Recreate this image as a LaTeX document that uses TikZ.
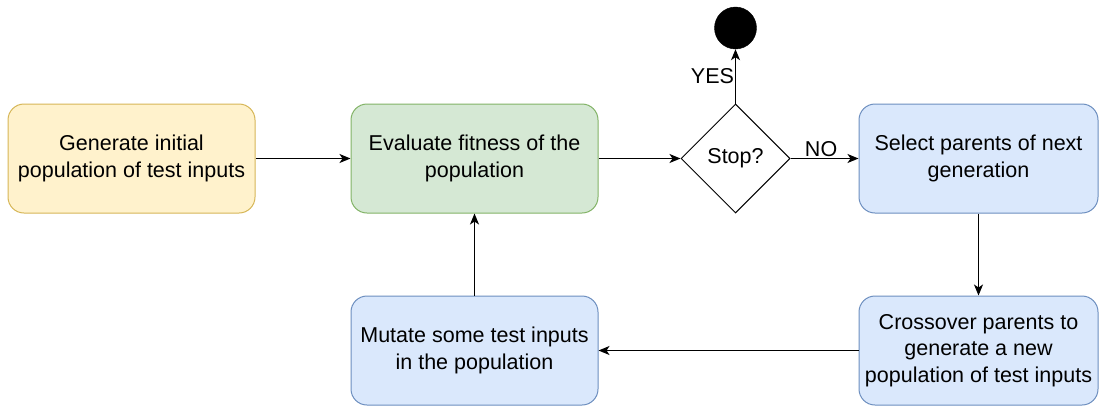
\documentclass[tikz,border=0pt]{standalone}
\usepackage{fontspec}
\setmainfont{Liberation Sans}
\usetikzlibrary{arrows.meta, positioning, shapes.geometric}

\definecolor{yelfill}{HTML}{FFF2CC}
\definecolor{yelline}{HTML}{D6B656}
\definecolor{grnfill}{HTML}{D5E8D4}
\definecolor{grnline}{HTML}{82B366}
\definecolor{blufill}{HTML}{DAE8FC}
\definecolor{bluline}{HTML}{6C8EBF}

\tikzset{
    stepbox/.style={rounded corners=16pt, align=center, line width=1pt,
        minimum width=247pt, minimum height=109pt, inner sep=2pt},
    flowarrow/.style={-{Stealth[length=11pt, width=9pt, inset=3pt]}, line width=1.1pt},
    lbl/.style={inner sep=1pt}
}

\begin{document}
\begin{tikzpicture}[x=1pt, y=-1pt, font=\fontsize{21.5}{26.5}\selectfont]
    \useasboundingbox (0,0) rectangle (1099,408);

    % Main loop
    \node[stepbox, draw=yelline, fill=yelfill] (gen) at (131.5,158.5) {Generate initial\\population of test inputs};
    \node[stepbox, draw=grnline, fill=grnfill] (eval) at (474.5,158.5) {Evaluate fitness of the\\population};
    \node[diamond, draw, line width=1pt, minimum width=109pt, minimum height=109pt, inner sep=0pt] (stop) at (735.5,158.5) {Stop?};
    \node[circle, fill=black, draw=black, minimum size=42pt, inner sep=0pt] (done) at (735.5,28) {};
    \node[stepbox, draw=bluline, fill=blufill, minimum width=239pt] (sel) at (978.5,158.5) {Select parents of next\\generation};
    \node[stepbox, draw=bluline, fill=blufill, minimum width=239pt, inner sep=0pt] (cross) at (978.5,350.5) {Crossover parents to\\generate a new\\population of test inputs};
    \node[stepbox, draw=bluline, fill=blufill] (mut) at (474.5,350.5) {Mutate some test inputs\\in the population};

    % Connectors
    \draw[flowarrow] (gen) -- (eval);
    \draw[flowarrow] (eval) -- (stop);
    \draw[flowarrow] (stop.north) -- node[lbl, left, pos=0.5] {YES} (done.south);
    \draw[flowarrow] (stop.east) -- node[lbl, above, pos=0.45] {NO} (sel.west);
    \draw[flowarrow] (sel) -- (cross);
    \draw[flowarrow] (cross) -- (mut);
    \draw[flowarrow] (mut) -- (eval);
\end{tikzpicture}
\end{document}
